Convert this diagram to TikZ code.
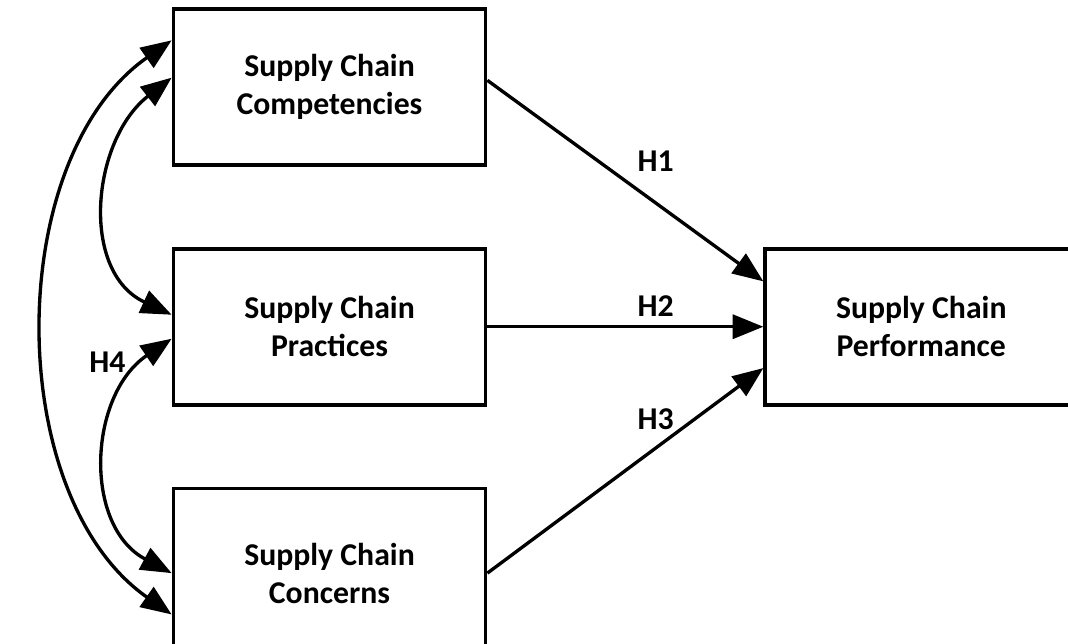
\documentclass[tikz,border=0pt]{standalone}
\usepackage{fontspec}
\setmainfont{Carlito}
\usetikzlibrary{positioning,arrows.meta}
\tikzset{block/.style={draw,line width=2.8pt,minimum width=234pt,minimum height=117pt,align=center,font=\bfseries\fontsize{23.8}{28.5}\selectfont}}
\tikzset{hyp/.style={font=\bfseries\fontsize{23.8}{28.5}\selectfont}}
\tikzstyle{arrow}=[draw,line width=2.5pt,-{Triangle[length=23pt,width=18pt]}]
\tikzstyle{both}=[draw,line width=2.5pt,{Triangle[length=23pt,width=18pt]}-{Triangle[length=23pt,width=18pt]}]

\begin{document}
\begin{tikzpicture}[x=0.75pt,y=0.75pt]
        \useasboundingbox (0,0) rectangle (1068,643);
        \clip (0,0) rectangle (1068,643);
        \node[block] (comp) at (329.5,556) {Supply Chain\\Competencies};
        \node[block,below=60pt of comp] (prac) {Supply Chain\\Practices};
        \node[block,below=60pt of prac,minimum height=127pt] (conc) {Supply Chain\\Concerns};
        \node[block,right=207pt of prac] (perf) {Supply Chain\\Performance};

            \path[arrow] ([yshift=5pt]comp.east) -- node[hyp,pos=.61,yshift=31pt] (h1) {H1} ([yshift=34pt]perf.west);
            \path[arrow] (prac.east) -- node[hyp,pos=.61,above=3pt] (h2) {H2} (perf.west);
            \path[arrow] (conc.east) -- node[hyp,pos=.61,yshift=22pt] (h3) {H3} ([yshift=-31pt]perf.west);

            \path[both] ([yshift=35pt]comp.west) to[out=215,in=145,looseness=.92] ([yshift=-31pt]conc.west);
            \path[both] ([yshift=7pt]comp.west) to[out=218,in=155,looseness=1.1] ([yshift=9pt]prac.west);
            \path[both] ([yshift=-9pt]prac.west) to[out=214,in=152,looseness=1.1] node[hyp,pos=.12,left=10pt] (h4) {H4} (conc.west);
    \end{tikzpicture}
\end{document}
